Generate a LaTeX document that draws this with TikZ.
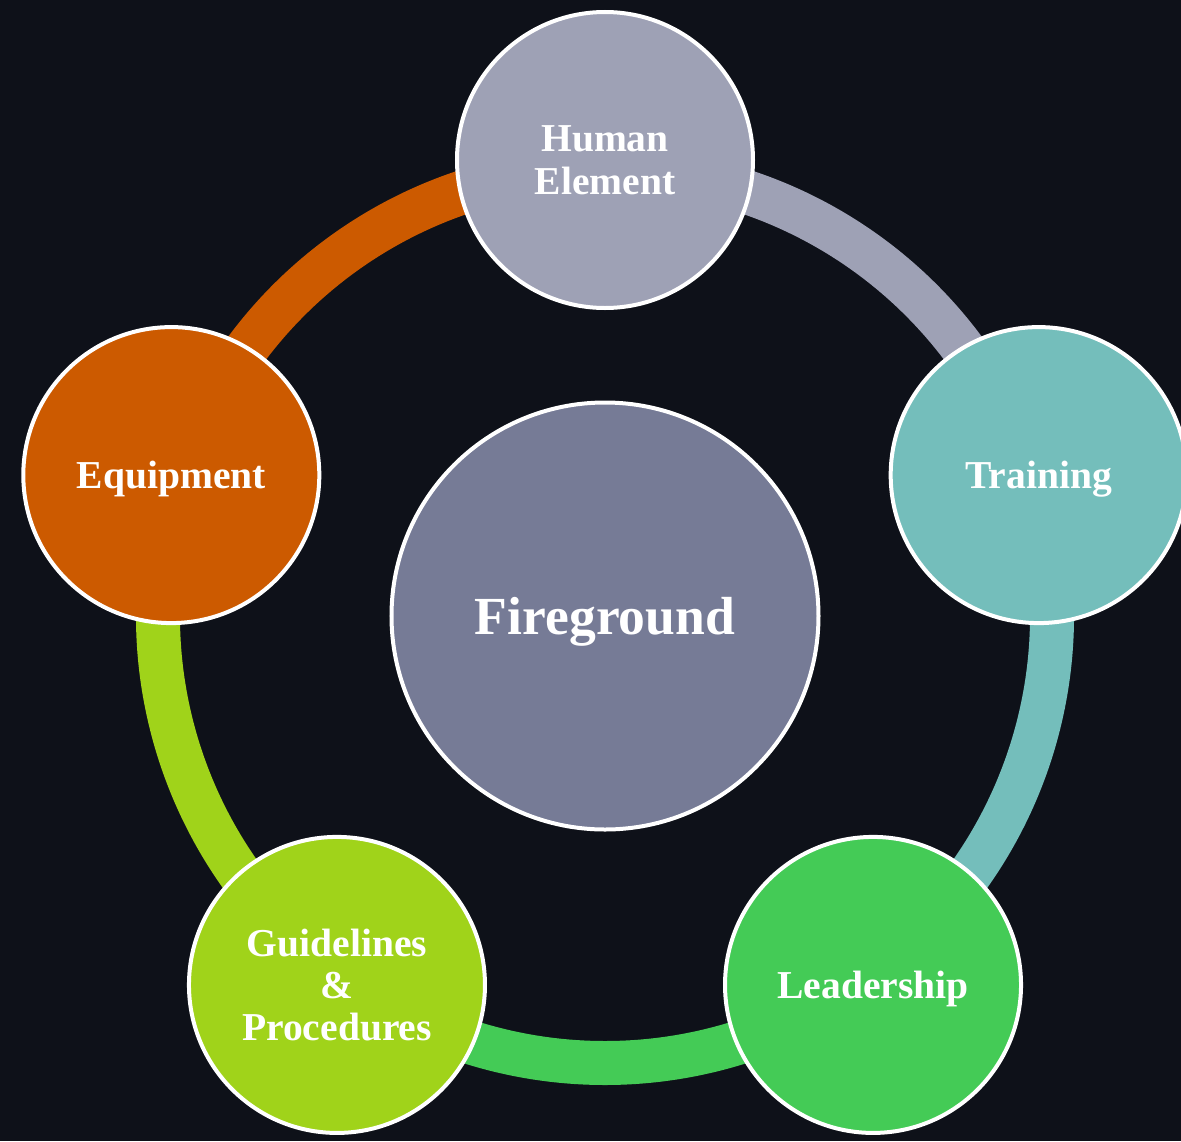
\documentclass[tikz,border=0pt]{standalone}
\usepackage{fontspec}
\setmainfont{Liberation Serif}

\definecolor{night}{HTML}{0E1119}
\definecolor{humancol}{HTML}{9EA1B5}
\definecolor{trainingcol}{HTML}{74BEBB}
\definecolor{leadercol}{HTML}{44CB56}
\definecolor{guidecol}{HTML}{A0D31A}
\definecolor{equipcol}{HTML}{CC5A00}
\definecolor{hubcol}{HTML}{767B96}

\begin{document}
\begin{tikzpicture}[petal/.style = {circle, draw = white, line width = 0.08cm, minimum size = 5.92cm, inner sep = 0pt, text = white, text depth = 0pt, align = center, font = \bfseries\fontsize{22.5}{24}\selectfont}, band/.style = {line width = 0.88cm}]

	% The dark backdrop
	
	\useasboundingbox (-12.1, -10.5) rectangle (11.52, 12.32);
	\fill [night] (-12.1, -10.5) rectangle (11.52, 12.32);
	
	% Points where the ring leaves each circle
	
	\foreach \name/\ang in {ringhum/90, ringtrn/18, ringldr/-54, ringgdl/-126, ringeqp/162}
		\coordinate (\name) at (\ang : 8.94);
	
	% The ring, one coloured arc per step
	
	\begin{scope}[band]
	
		\draw [humancol] (ringhum) arc (90 : 18 : 8.94);
		\draw [trainingcol] (ringtrn) arc (18 : -54 : 8.94);
		\draw [leadercol] (ringldr) arc (-54 : -126 : 8.94);
		\draw [guidecol] (ringgdl) arc (-126 : -198 : 8.94);
		\draw [equipcol] (ringeqp) arc (162 : 90 : 8.94);
	
	\end{scope}
	
	% Centre
	
	\node [petal, fill = hubcol, minimum size = 8.54cm, font = \bfseries\fontsize{30.5}{36}\selectfont] (hub) at (0, 0) {Fireground};
	
	% Outer circles
	
	\node [petal, fill = humancol] (human) at (90 : 9.12) {Human\\Element};
	\node [petal, fill = trainingcol] (training) at (18 : 9.12) {Training};
	\node [petal, fill = leadercol] (leadership) at (-54 : 9.12) {Leadership};
	\node [petal, fill = guidecol] (guidelines) at (-126 : 9.12) {Guidelines\\\&\\Procedures};
	\node [petal, fill = equipcol] (equipment) at (162 : 9.12) {Equipment};

\end{tikzpicture}
\end{document}
